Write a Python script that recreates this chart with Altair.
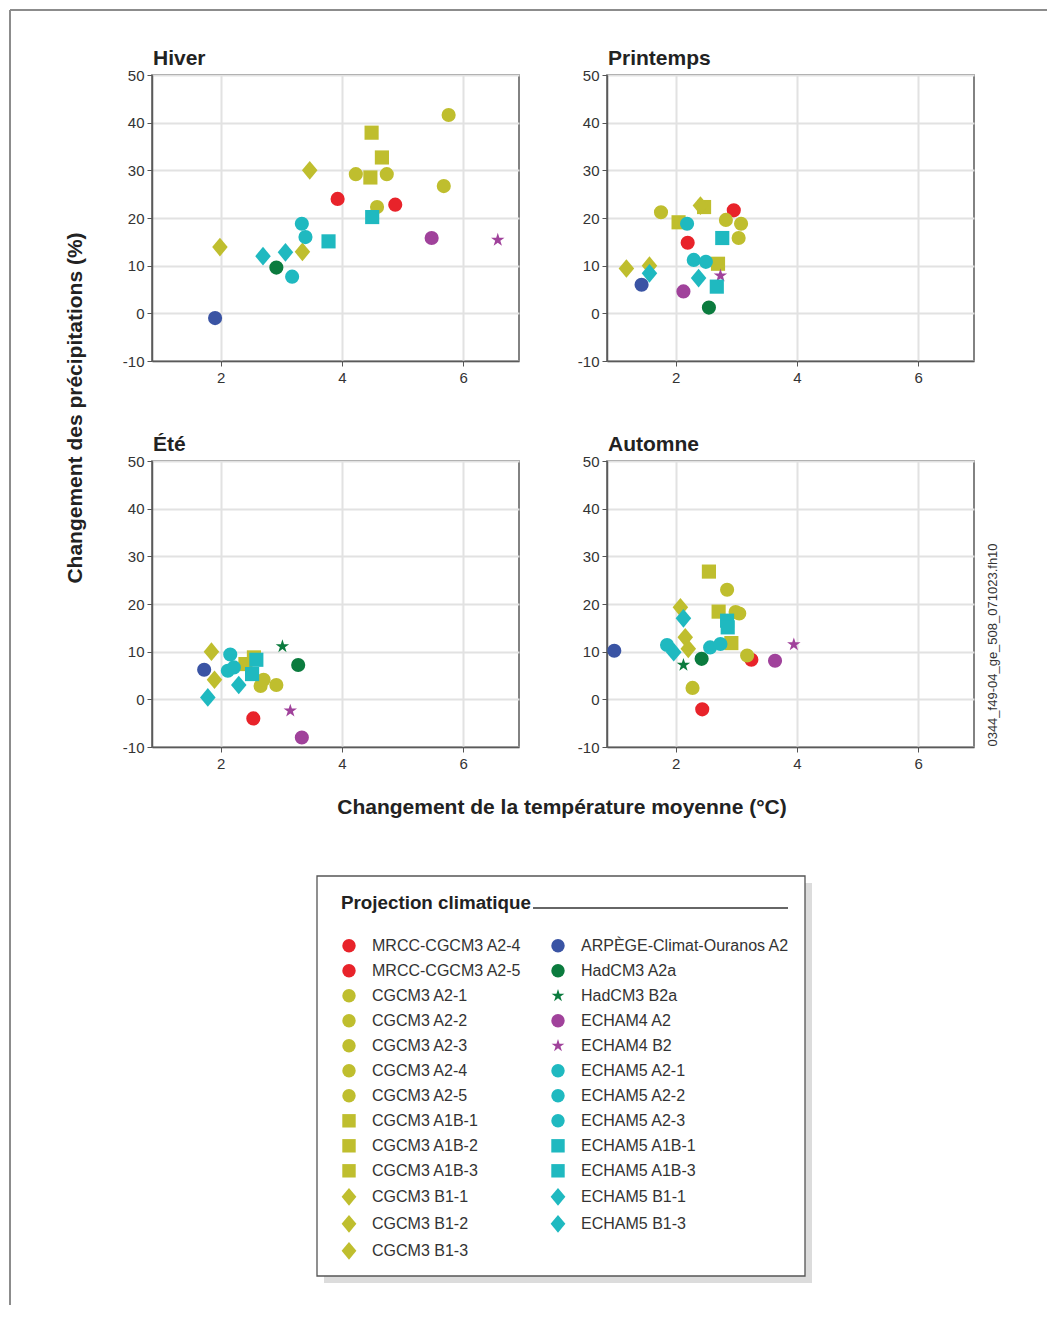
import altair as alt
import pandas as pd

FONT = "Liberation Sans"

series = ["MRCC-CGCM3 A2-4", "MRCC-CGCM3 A2-5", "CGCM3 A2-1", "CGCM3 A2-2", "CGCM3 A2-3",
          "CGCM3 A2-4", "CGCM3 A2-5", "CGCM3 A1B-1", "CGCM3 A1B-2", "CGCM3 A1B-3",
          "CGCM3 B1-1", "CGCM3 B1-2", "CGCM3 B1-3", "ARPÈGE-Climat-Ouranos A2", "HadCM3 A2a",
          "HadCM3 B2a", "ECHAM4 A2", "ECHAM4 B2", "ECHAM5 A2-1", "ECHAM5 A2-2",
          "ECHAM5 A2-3", "ECHAM5 A1B-1", "ECHAM5 A1B-3", "ECHAM5 B1-1", "ECHAM5 B1-3"]

RED, OLIVE, BLUE, DKG, PURP, CYAN = "#e8232a", "#bfbe2e", "#3a54a4", "#0b7b3e", "#a0429b", "#1fb9c0"
series_colors = [RED, RED, OLIVE, OLIVE, OLIVE, OLIVE, OLIVE, OLIVE, OLIVE, OLIVE, OLIVE, OLIVE, OLIVE,
                 BLUE, DKG, DKG, PURP, PURP, CYAN, CYAN, CYAN, CYAN, CYAN, CYAN, CYAN]

CIRC = "circle"
SQ = "square"
DIAM = "M0,-1.32L1.1,0L0,1.32L-1.1,0Z"
STAR = ("M0,-1L0.225,-0.309L0.951,-0.309L0.363,0.118L0.588,0.809L0,0.382"
        "L-0.588,0.809L-0.363,0.118L-0.951,-0.309L-0.225,-0.309Z")
series_shapes = [CIRC, CIRC, CIRC, CIRC, CIRC, CIRC, CIRC, SQ, SQ, SQ, DIAM, DIAM, DIAM,
                 CIRC, CIRC, STAR, CIRC, STAR, CIRC, CIRC, CIRC, SQ, SQ, DIAM, DIAM]

N = None
# temperature change (°C) and precipitation change (%) per season, in series order
hiver_x = [3.93, 4.88, 4.23, 4.74, 4.58, 5.68, 5.76, 4.49, 4.66, 4.47, 1.99, 3.35, 3.47,
           1.91, 2.92, N, 5.48, 6.57, 3.18, 3.34, 3.40, 3.78, 4.50, 2.70, 3.07]
hiver_y = [24.0, 22.8, 29.2, 29.2, 22.3, 26.7, 41.6, 37.9, 32.7, 28.5, 13.9, 12.9, 30.0,
           -1.0, 9.6, N, 15.8, 15.4, 7.7, 18.8, 16.0, 15.1, 20.2, 12.0, 12.8]

printemps_x = [2.20, 2.96, 1.76, 2.83, 3.08, 3.04, N, 2.05, 2.47, 2.70, 2.41, 1.19, 1.57,
               1.44, 2.55, N, 2.13, 2.74, 2.19, 2.30, 2.50, 2.77, 2.68, 1.57, 2.38]
printemps_y = [14.8, 21.6, 21.2, 19.6, 18.8, 15.8, N, 19.1, 22.3, 10.4, 22.6, 9.4, 10.0,
               6.0, 1.2, N, 4.6, 7.9, 18.8, 11.2, 10.8, 15.8, 5.6, 8.4, 7.4]

ete_x = [2.54, N, 2.66, 2.71, 2.92, N, N, 2.41, 2.55, N, 1.85, 1.90, N,
         1.73, 3.28, 3.02, 3.34, 3.15, 2.16, 2.12, 2.22, 2.59, 2.52, 1.79, 2.30]
ete_y = [-4.0, N, 2.8, 4.1, 3.0, N, N, 7.4, 8.8, N, 10.0, 4.1, N,
         6.2, 7.2, 11.1, -8.0, -2.4, 9.4, 6.0, 6.7, 8.3, 5.3, 0.4, 3.0]

automne_x = [3.25, 2.44, 2.85, 2.99, 3.18, 2.28, 3.05, 2.55, 2.71, 2.92, 2.08, 2.16, 2.21,
             0.99, 2.43, 2.13, 3.64, 3.95, 1.86, 2.57, 2.74, 2.85, 2.86, 2.13, 1.97]
automne_y = [8.3, -2.1, 23.0, 18.3, 9.2, 2.4, 18.0, 26.8, 18.4, 11.8, 19.3, 13.0, 10.6,
             10.2, 8.5, 7.2, 8.1, 11.5, 11.4, 10.9, 11.6, 16.5, 15.1, 17.0, 9.9]

seasons = ["Hiver", "Printemps", "Été", "Automne"]
season_x = [hiver_x, printemps_x, ete_x, automne_x]
season_y = [hiver_y, printemps_y, ete_y, automne_y]

rows = []
for sn, xs, ys in zip(seasons, season_x, season_y):
    for i, (s, xv, yv) in enumerate(zip(series, xs, ys)):
        if xv is not None and yv is not None:
            rows.append({"saison": sn, "serie": s, "idx": i, "dT": xv, "dP": yv})
df = pd.DataFrame(rows)

legend = alt.Legend(
    title="Projection climatique", orient="none", legendX=167, legendY=797, columns=2,
    titleFont=FONT, titleFontSize=18.8, titleFontWeight="bold", titleColor="#222",
    titlePadding=25, titleLimit=400, labelFont=FONT, labelFontSize=16, labelColor="#333",
    labelOffset=15, labelLimit=400, rowPadding=9, columnPadding=28, padding=22,
    symbolSize=180, symbolStrokeWidth=0, symbolOpacity=1,
)

W, H = 367, 286
XDOM = [0.87, 6.92]


def panel(name):
    return alt.Chart(df).transform_filter(alt.datum.saison == name).mark_point(
        filled=True, opacity=1, size=200, strokeWidth=0
    ).encode(
        x=alt.X("dT:Q", scale=alt.Scale(domain=XDOM, nice=False, zero=False),
                axis=alt.Axis(values=[2, 4, 6], title=None)),
        y=alt.Y("dP:Q", scale=alt.Scale(domain=[-10, 50], nice=False),
                axis=alt.Axis(values=[-10, 0, 10, 20, 30, 40, 50], title=None,
                              labelExpr="'' + datum.value")),
        color=alt.Color("serie:N", scale=alt.Scale(domain=series, range=series_colors), legend=legend),
        shape=alt.Shape("serie:N", scale=alt.Scale(domain=series, range=series_shapes), legend=legend),
        order=alt.Order("idx:Q"),
    ).properties(width=W, height=H)


one = alt.Data(values=[{"k": 0}])
FRAME = "#8c8c8c"


def label(txt, x, y, size=21, bold=True, angle=None, align="left", color="#222"):
    kw = dict(font=FONT, fontSize=size, color=color, align=align)
    if bold:
        kw["fontWeight"] = "bold"
    if angle is not None:
        kw["angle"] = angle
    return alt.Chart(one).mark_text(baseline="alphabetic", **kw).encode(
        x=alt.value(x), y=alt.value(y), text=alt.value(txt))


decor = [
    # page frame
    alt.Chart(one).mark_rule(color=FRAME, strokeWidth=2).encode(
        x=alt.value(-142), y=alt.value(-65), y2=alt.value(1230)),
    alt.Chart(one).mark_rule(color=FRAME, strokeWidth=2).encode(
        x=alt.value(-142), x2=alt.value(895), y=alt.value(-65)),
    # panel titles and shared axis titles
    label("Hiver", 1, -10),
    label("Printemps", 456, -10),
    label("Été", 1, 376),
    label("Automne", 456, 376),
    label("Changement des précipitations (%)", -70, 333, angle=270, align="center"),
    label("Changement de la température moyenne (°C)", 410, 739, align="center"),
    label("0344_f49-04_ge_508_071023.fh10", 845, 570, size=13, bold=False, angle=270,
          align="center", color="#333"),
    # legend box: shadow, box, title underline
    alt.Chart(one).mark_rect(color="#dcdcdc").encode(
        x=alt.value(172), x2=alt.value(660), y=alt.value(808), y2=alt.value(1208)),
    alt.Chart(one).mark_rect(fill="white", stroke="#555", strokeWidth=1.3).encode(
        x=alt.value(165), x2=alt.value(653), y=alt.value(801), y2=alt.value(1201)),
    alt.Chart(one).mark_rule(color="#333", strokeWidth=1.5).encode(
        x=alt.value(381), x2=alt.value(636), y=alt.value(833)),
]

hiver = alt.layer(*decor, panel("Hiver")).properties(width=W, height=H)
printemps = panel("Printemps")
ete = panel("Été")
automne = panel("Automne")

chart = alt.concat(hiver, printemps, ete, automne, columns=2,
                   spacing={"row": 100, "column": 88}, bounds="flush").properties(
    padding={"left": 0, "top": 0, "right": 0, "bottom": 0}
).configure_view(
    stroke="#5a5a5a", strokeWidth=1.5
).configure_axis(
    labelFont=FONT, labelFontSize=15, labelColor="#333", tickColor="#555", tickSize=5,
    labelPadding=3, domainColor="#5a5a5a", domainWidth=1.5, gridColor="#e2e2e2", gridWidth=2,
    grid=True,
).configure_axisX(labelPadding=4)

chart.save("out.html", embed_options={"renderer": "svg", "actions": False})
